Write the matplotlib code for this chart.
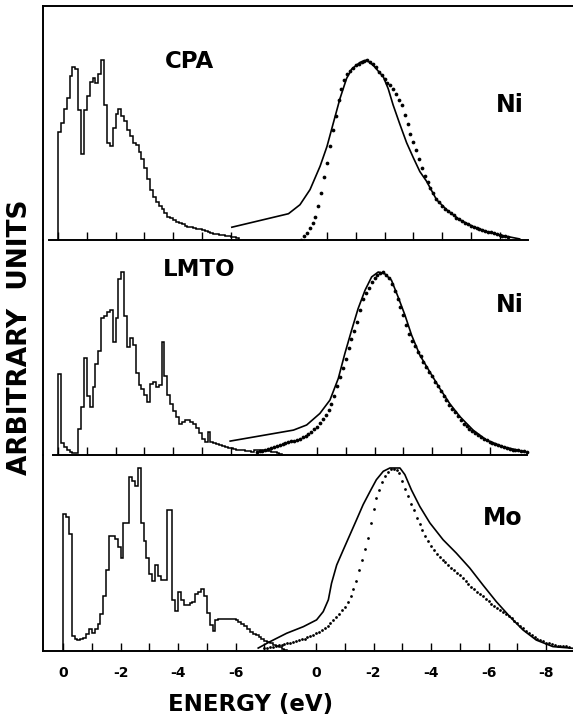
import matplotlib as mpl
mpl.use('Agg')
import matplotlib.pyplot as plt
import numpy as np

W, H = 573, 722          # figure size in pixels (dpi 100)
PX_PER_EV = 28.75        # horizontal scale of the scan
FONT = ['Liberation Sans Narrow', 'DejaVu Sans']

# ---- calculated densities of states (histograms, 0.1 eV bins, arbitrary units) ----
BIN = 0.1
cpa_dos = [60, 65, 73, 79, 91, 96, 95, 72, 48, 72, 80, 88, 90, 87, 92, 100, 75, 54, 52, 62,
           70, 73, 69, 66, 61, 58, 54, 53, 49, 45, 40, 34, 28, 24, 21, 19, 17, 15, 13, 12,
           11, 10, 9.5, 9, 8, 7.5, 7, 6.5, 6, 6, 5.5, 5, 4.5, 4, 3.5, 3.5, 3, 3, 2.5, 2,
           1.5, 1.5, 1]
lmto_dos = [44, 6.5, 4.5, 2.7, 1.5, 1, 1, 14, 26, 53, 32, 26, 37, 50, 57, 75, 76, 78, 79, 62,
            75, 96, 100, 76, 59, 64, 60, 45, 38, 36, 33, 29, 39, 40, 37, 38, 62, 43, 33, 28,
            24, 21, 17, 18, 19, 19, 18, 17, 15, 12, 9, 7, 12.5, 7, 6.5, 6, 5.5, 5, 4.5, 4,
            3.6, 3.2, 3, 2.7, 2.5, 2.3, 2, 1.8, 2.5, 3, 3, 2.5, 2, 2, 1.5, 1.5, 1, 0.5]
mo_dos = [75, 73, 64, 8, 6.5, 6, 6.5, 7, 9.5, 12, 10, 12, 15, 20, 30, 44, 63, 63, 61, 57,
          51, 70, 70, 95, 93, 90, 100, 70, 60, 51, 42, 38, 47, 41, 39, 39, 77, 77, 28, 22,
          32, 28, 25, 25, 26, 27, 31, 32, 34, 30, 21, 14, 11, 17, 17.5, 17.5, 17.5, 17.5, 17.5, 17.5,
          17, 16, 15, 13.5, 12, 10.5, 9.5, 8.5, 7.5, 6.5, 5.5, 5, 4.2, 3.5, 2.8, 2, 1.3, 0.6]

# ---- measured spectra (dots, 0.1 eV steps from the given start energy) ----
DOT_STEP = 0.1
ni1_dots_start = -0.9
ni1_dots = [0, 2, 4, 6.5, 9.3, 13, 19, 26, 35, 43, 52, 61, 69, 78, 84, 89, 92.5, 94, 95.5, 97,
            98, 99, 99.5, 100, 99, 98, 96, 93.5, 91.5, 89.5, 87.5, 86, 84, 81, 78, 75, 69.5, 64.5, 59, 54.5,
            50, 45, 40, 35.5, 32, 29, 26, 23, 21, 19, 17.5, 16, 15, 14, 12.5, 11.5, 10.5, 9.5, 8.8, 8,
            7.3, 6.7, 6.2, 5.7, 5.2, 4.7, 4.2, 3.8, 3.3, 2.9, 2.5, 2.1, 1.8]
ni2_dots_start = -2.1
ni2_dots = [1.8, 2.0, 2.4, 2.8, 3.2, 3.6, 4.2, 4.8, 5.4, 6.1, 6.7, 7.1, 7.5, 7.9, 8.2, 8.9, 9.6, 10.4, 11.5, 12.6,
            14, 15.5, 17.5, 19.5, 22, 24.8, 28, 32.3, 37.5, 42.7, 47.5, 52.5, 58.5, 63.5, 67.5, 72.5, 79.5, 85, 88.5, 91.5,
            94.5, 96.7, 98.5, 99.7, 99.8, 98.5, 96.8, 93.5, 89.5, 85, 81, 76.4, 71, 66.3, 62.3, 59.5, 56.5, 54, 51, 48.2,
            45.5, 43, 40, 37.5, 35, 32.5, 30, 27.5, 25.2, 23.3, 21.2, 19.2, 17.2, 15.7, 14.3, 13, 11.8, 10.8, 9.8, 8.9,
            8.1, 7.3, 6.5, 5.9, 5.3, 4.7, 4.2, 3.6, 3.3, 3.0, 2.8, 2.5, 2.2, 2.0, 1.8]
mo_dots_start = -1.8
mo_dots = [1.5, 1.8, 2.1, 2.4, 2.8, 3.1, 3.5, 3.9, 4.2, 4.6, 5.0, 5.4, 5.8, 6.3, 6.8, 7.4, 8.1, 8.8, 9.6, 10.4,
           11.3, 12.4, 13.7, 15.1, 16.7, 18.5, 20.3, 22.2, 24.3, 27, 30, 34, 38.5, 44, 50, 55.5, 62, 70, 77.5, 83.5,
           88, 92.5, 95.5, 98, 99.3, 99.6, 99, 97, 93, 88.5, 84.5, 80.5, 76.8, 72.8, 69.2, 66, 63, 60.2, 57.5, 55,
           53, 51.5, 50, 48.5, 47, 45.5, 44, 42.6, 41.3, 40, 38.5, 36.8, 35.2, 33.7, 32.3, 31, 29.8, 28.5, 27.2, 25.8,
           24.6, 23.5, 22.5, 21.5, 20.3, 19.1, 17.8, 16.5, 15.2, 13.9, 12.5, 11.1, 9.9, 8.8, 7.7, 6.7, 5.9, 5.2, 4.6, 4.1,
           3.6, 3.3, 3.0, 2.8, 2.6, 2.5, 2.4]

# ---- theoretical spectra (solid lines) ----
ni1_theory_e = [-3.31, -1.34, -0.94, -0.59, -0.24, 0, 0.22, 0.45, 0.68, 0.86, 1.15, 1.38, 1.61, 1.96,
                2.13, 2.3, 2.53, 2.77, 3.0, 3.23, 3.46, 3.81, 4.16, 4.62, 5.08, 5.55, 6.0, 6.7]
ni1_theory = [7.1, 14.6, 19.6, 28, 41, 52, 65, 78.5, 89.7, 95, 98.7, 100, 97, 90.6,
              84, 75, 64.5, 54, 45.8, 38, 32.7, 22.4, 16.8, 11.2, 7.5, 4.7, 2.8, 0.6]
ni2_theory_e = [-3.02, -0.82, -0.36, 0.1, 0.45, 0.74, 0.97, 1.2, 1.43, 1.67, 1.9, 2.13, 2.36, 2.59,
                2.82, 3.06, 3.29, 3.58, 3.92, 4.27, 4.62, 4.97, 5.43, 5.89, 6.47, 7.05]
ni2_theory = [7.6, 13.6, 16.4, 22.7, 30, 41.8, 55.5, 68, 80, 90, 97.3, 100, 99, 95.5,
              86.4, 76.4, 65.5, 54.5, 45.5, 36.4, 28, 21, 13.6, 8.2, 4.5, 2.4]
mo_theory_e = [-2.01, -1.6, -1.02, -0.44, 0.02, 0.25, 0.43, 0.54, 0.72, 0.95, 1.18, 1.41, 1.64, 1.88,
               2.1, 2.34, 2.57, 2.92, 3.09, 3.32, 3.61, 3.96, 4.42, 4.88, 5.35, 5.81, 6.27, 6.74,
               7.2, 7.66, 8.24, 8.92]
mo_theory = [1.6, 5.1, 9.7, 13.3, 17, 21.5, 28, 37, 47, 55.3, 63.5, 71.7, 80, 87.2,
             93.6, 98.2, 100, 100, 96.4, 88, 79, 70, 60.8, 53.5, 45.3, 36, 27, 18.8,
             11.5, 6, 2.4, 1.5]

left_tick_labels = ['0', '-2', '-4', '-6']
right_tick_labels = ['0', '-2', '-4', '-6', '-8']

# layout of the three panels, all in pixels of the scan
panels = [
    dict(dos=cpa_dos, dots=ni1_dots, dots_start=ni1_dots_start, th_e=ni1_theory_e, th=ni1_theory,
         top=6, base=240, peak=180, origin=58, right_zero=327, axis=(49, 528),
         n_left=7, n_right=7, ms=2.7, method='CPA', method_xy=(190, 62), elem='Ni', elem_xy=(510, 105)),
    dict(dos=lmto_dos, dots=ni2_dots, dots_start=ni2_dots_start, th_e=ni2_theory_e, th=ni2_theory,
         top=240, base=455, peak=183, origin=58, right_zero=317, axis=(53, 527),
         n_left=7, n_right=7, ms=2.7, method='LMTO', method_xy=(199, 270), elem='Ni', elem_xy=(510, 305)),
    dict(dos=mo_dos, dots=mo_dots, dots_start=mo_dots_start, th_e=mo_theory_e, th=mo_theory,
         top=455, base=651, peak=183, origin=63, right_zero=316, axis=(43, 573),
         n_left=8, n_right=9, ms=2.0, method=None, method_xy=None, elem='Mo', elem_xy=(503, 518)),
]

fig = plt.figure(figsize=(W / 100, H / 100), dpi=100)

for i, p in enumerate(panels):
    ax = fig.add_axes([43 / W, (H - p['base']) / H, 530 / W, (p['base'] - p['top']) / H])
    ax.patch.set_alpha(0)
    ev = lambda px, o=p['origin']: (px - o) / PX_PER_EV
    off = ev(p['right_zero'])
    ax.set_xlim(ev(43), ev(573))
    ax.set_ylim(0, 100 * (p['base'] - p['top']) / p['peak'])

    # histogram of the calculated DOS
    edges = np.arange(len(p['dos']) + 1) * BIN
    ax.stairs(p['dos'], edges, baseline=0, color='black', lw=1.1)

    # theory and experiment
    ax.plot(off + np.array(p['th_e']), p['th'], color='black', lw=1.2)
    de = p['dots_start'] + DOT_STEP * np.arange(len(p['dots']))
    ax.plot(off + de, p['dots'], ls='none', marker='o', ms=p['ms'], mfc='black', mec='black', mew=0)

    for s in ['right', 'top']:
        ax.spines[s].set_visible(False)
    if i == 0:
        ax.spines['top'].set_visible(True)
    for s in ax.spines.values():
        s.set_linewidth(1.4)
    ax.spines['bottom'].set_bounds(ev(p['axis'][0]), ev(p['axis'][1]))

    ticks = list(range(p['n_left'])) + [off + k for k in range(p['n_right'])]
    ax.set_xticks(ticks)
    if i == 2:
        labels = [left_tick_labels[k // 2] if k % 2 == 0 else '' for k in range(p['n_left'])]
        labels += [right_tick_labels[k // 2] if k % 2 == 0 else '' for k in range(p['n_right'])]
        ax.set_xticklabels(labels, fontfamily=FONT, fontweight='bold', fontsize=10)
    else:
        ax.set_xticklabels([])
    ax.tick_params(axis='x', direction='in', length=6, width=1, pad=11)
    ax.set_yticks([])

    if p['method']:
        fig.text(p['method_xy'][0] / W, 1 - p['method_xy'][1] / H, p['method'], ha='center', va='center',
                 fontfamily=FONT, fontweight='bold', fontsize=16.5)
    fig.text(p['elem_xy'][0] / W, 1 - p['elem_xy'][1] / H, p['elem'], ha='center', va='center',
             fontfamily=FONT, fontweight='bold', fontsize=17)

fig.text(20 / W, 1 - 337 / H, 'ARBITRARY  UNITS', rotation=90, ha='center', va='center',
         fontfamily=FONT, fontweight='bold', fontsize=19)
fig.text(251 / W, 1 - 705 / H, 'ENERGY (eV)', ha='center', va='center',
         fontfamily=FONT, fontweight='bold', fontsize=16.5)

fig.savefig('out.png', dpi=100)
